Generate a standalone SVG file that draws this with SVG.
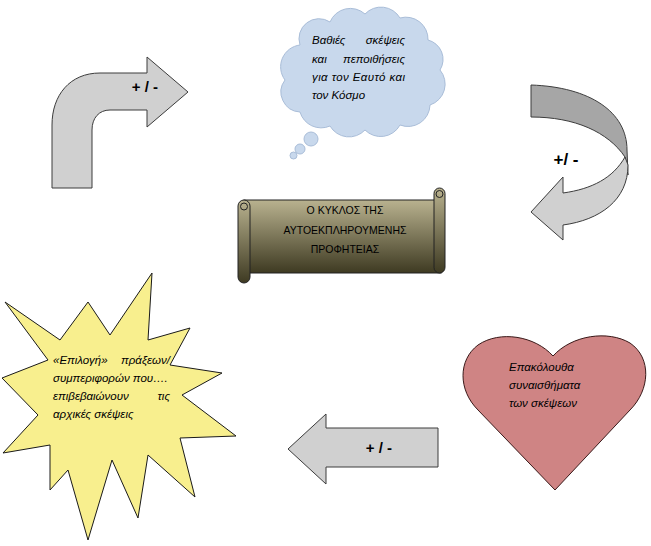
<svg xmlns="http://www.w3.org/2000/svg" width="651" height="546" viewBox="0 0 651 546">
<style>
.t{font-family:"Liberation Sans",Arial,sans-serif;font-style:italic;font-size:11.5px;fill:#000}
.pm{font-family:"Liberation Sans",Arial,sans-serif;font-weight:bold;fill:#000}
.arr{fill:#d0d0d0;stroke:#3c3c3c;stroke-width:1}
.cap{font-family:"Liberation Sans",Arial,sans-serif;font-size:10.5px;fill:#000;text-anchor:middle}
</style>
<defs>
<linearGradient id="scrollG" x1="0" y1="0" x2="0" y2="1">
<stop offset="0" stop-color="#b9b28f"/>
<stop offset="1" stop-color="#3e3a22"/>
</linearGradient>
</defs>
<rect width="651" height="546" fill="#fff"/>

<g id="connectors">
<g id="arrow-top-left">
<path class="arr" d="M52,188 L52,125 C52,95 70,73 100,73 L147,73 L147,57 L188,92 L147,127 L147,110 L110,110 C99,110 92,118 92,130 L92,188 Z"/>
<text class="pm" x="145" y="92" font-size="15" text-anchor="middle">+ / -</text>
</g>
<g id="arrow-right-curved">
<path d="M531,85 C590,87 627,112 627,150 L628,175 L625,157 C608,132 575,117 531,117 Z" fill="#a6a6a6" stroke="#3c3c3c" stroke-width="1"/>
<path class="arr" d="M625,157 C613,178 592,189 563,193 L563,177 L531,212 L563,240 L563,225 C600,220 628,200 628,165 Z"/>
<text class="pm" x="566" y="165" font-size="17" text-anchor="middle">+/ -</text>
</g>
<g id="arrow-bottom">
<path class="arr" d="M438,428 L438,467 L326,467 L326,484 L288,449 L326,414 L326,428 Z"/>
<text class="pm" x="379" y="453" font-size="15" text-anchor="middle">+ / -</text>
</g>
</g>

<g id="node-thoughts">
<path d="M300,45 A20,20 0 0 1 330,22 A22,22 0 0 1 365,14 A22,22 0 0 1 400,18 A22,22 0 0 1 428,40 A20,20 0 0 1 440,70 A22,22 0 0 1 430,105 A22,22 0 0 1 400,125 A22,22 0 0 1 365,130 A22,22 0 0 1 330,126 A22,22 0 0 1 300,112 A20,20 0 0 1 285,80 A22,22 0 0 1 300,45 Z" fill="#c8d8ec" stroke="#a9bdd8" stroke-width="1"/>
<circle cx="311" cy="139" r="7" fill="#c8d8ec" stroke="#a9bdd8"/>
<circle cx="300" cy="149" r="5" fill="#c8d8ec" stroke="#a9bdd8"/>
<circle cx="293.5" cy="155.5" r="3.5" fill="#c8d8ec" stroke="#a9bdd8"/>
<text class="t" x="312" y="44">Βαθιές</text>
<text class="t" x="405" y="44" text-anchor="end">σκέψεις</text>
<text class="t" x="312" y="63">και</text>
<text class="t" x="405" y="63" text-anchor="end">πεποιθήσεις</text>
<text class="t" x="312" y="81" textLength="93" lengthAdjust="spacing">για τον Εαυτό και</text>
<text class="t" x="312" y="99">τον Κόσμο</text>
</g>

<g id="node-title">
<rect x="244" y="200" width="197" height="73" fill="url(#scrollG)" stroke="#222" stroke-width="1"/>
<rect x="434" y="188" width="11" height="85" rx="5.5" fill="url(#scrollG)" stroke="#222" stroke-width="1"/>
<circle cx="439.5" cy="194" r="3.5" fill="none" stroke="#222" stroke-width="1"/>
<rect x="238" y="200" width="12" height="83" rx="6" fill="url(#scrollG)" stroke="#222" stroke-width="1"/>
<circle cx="244" cy="206.5" r="3.5" fill="none" stroke="#222" stroke-width="1"/>
<text class="cap" x="345" y="214">Ο ΚΥΚΛΟΣ ΤΗΣ</text>
<text class="cap" x="345" y="234">ΑΥΤΟΕΚΠΛΗΡΟΥΜΕΝΗΣ</text>
<text class="cap" x="345" y="253">ΠΡΟΦΗΤΕΙΑΣ</text>
</g>

<g id="node-emotions">
<path d="M553,356 C535,336 500,330 478,345 C458,360 458,390 478,410 L555,490 L630,410 C650,390 652,358 630,343 C608,330 572,335 553,356 Z" fill="#cf8484" stroke="#3a1a1a" stroke-width="1"/>
<text class="t" x="509" y="371">Επακόλουθα</text>
<text class="t" x="509" y="389">συναισθήματα</text>
<text class="t" x="509" y="407">των σκέψεων</text>
</g>

<g id="node-actions">
<path d="M5,302 L60,340 L88,302 L110,335 L152,273 L148,340 L190,328 L170,365 L222,373 L182,395 L236,436 L180,438 L195,497 L148,455 L138,518 L112,460 L88,540 L68,470 L50,490 L50,445 L3,453 L38,415 L2,378 L48,360 Z" fill="#f8ef8e" stroke="#1a1a1a" stroke-width="1"/>
<text class="t" x="53" y="364">«Επιλογή»</text>
<text class="t" x="170" y="364" text-anchor="end">πράξεων/</text>
<text class="t" x="53" y="382">συμπεριφορών που….</text>
<text class="t" x="53" y="400">επιβεβαιώνουν</text>
<text class="t" x="170" y="400" text-anchor="end">τις</text>
<text class="t" x="53" y="418">αρχικές σκέψεις</text>
</g>
</svg>
